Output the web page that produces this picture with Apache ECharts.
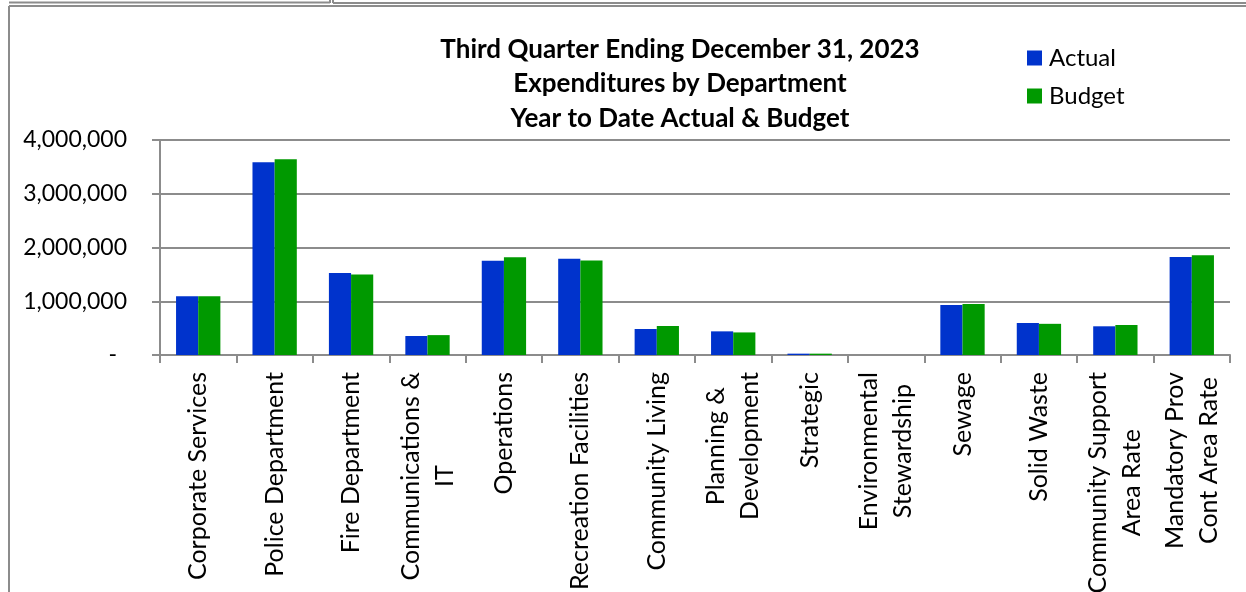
<!DOCTYPE html>
<html>
<head>
<meta charset="utf-8">
<script src="https://cdn.jsdelivr.net/npm/echarts@6/dist/echarts.min.js"></script>
<style>
html,body{margin:0;padding:0;background:#fff;}
#chart{width:1246px;height:592px;}
</style>
</head>
<body>
<div id="chart"></div>
<script>
var categories = [
  "Corporate Services", "Police Department", "Fire Department", "Communications &\nIT",
  "Operations", "Recreation Facilities", "Community Living", "Planning &\nDevelopment",
  "Strategic", "Environmental\nStewardship", "Sewage", "Solid Waste",
  "Community Support\nArea Rate", "Mandatory Prov\nCont Area Rate"
];
var actual = [1095000, 3585000, 1525000, 353000, 1755000, 1790000, 484000, 440000, 25000, 0, 930000, 595000, 534000, 1823000];
var budget = [1095000, 3640000, 1500000, 370000, 1820000, 1760000, 540000, 420000, 25000, 0, 950000, 580000, 558000, 1855000];
var yTicks = [0, 1000000, 2000000, 3000000, 4000000];
var titleLines = ["Third Quarter Ending December 31, 2023", "Expenditures by Department", "Year to Date Actual & Budget"];
var seriesNames = ["Actual", "Budget"];

var FONT = "Lato";
var chart = echarts.init(document.getElementById('chart'));
var option = {
  animation: false,
  backgroundColor: '#ffffff',
  title: {
    text: titleLines.join('\n'),
    left: 675,
    textAlign: 'center',
    top: 27,
    textStyle: { fontFamily: FONT, fontWeight: 'bold', fontSize: 26, lineHeight: 34.5, color: '#000' }
  },
  legend: {
    orient: 'vertical',
    left: 1027,
    top: 46,
    padding: 0,
    itemWidth: 15,
    itemHeight: 15,
    itemGap: 14,
    icon: 'rect',
    textStyle: { fontFamily: FONT, fontSize: 24, lineHeight: 24, color: '#000', padding: [0, 0, 0, 2] },
    data: seriesNames
  },
  grid: { left: 160, right: 16, top: 140, bottom: 237, containLabel: false, outerBoundsMode: 'none' },
  xAxis: {
    type: 'category',
    data: categories,
    axisLine: { lineStyle: { color: '#8c8c8c', width: 2 } },
    axisTick: { show: true, interval: 0, length: 8, lineStyle: { color: '#8c8c8c', width: 2 } },
    axisLabel: {
      interval: 0,
      rotate: 90,
      margin: 17,
      fontFamily: FONT,
      fontSize: 25,
      lineHeight: 34,
      color: '#000',
      formatter: function (v) {
        return v.split('\n').map(function (l) { return '{c|' + l + '}'; }).join('\n');
      },
      rich: { c: { align: 'center', fontFamily: FONT, fontSize: 25, lineHeight: 34, color: '#000' } }
    }
  },
  yAxis: {
    type: 'value',
    min: 0,
    max: 4000000,
    interval: 1000000,
    axisLine: { show: true, lineStyle: { color: '#8c8c8c', width: 2 } },
    axisTick: { show: true, length: 8, lineStyle: { color: '#8c8c8c', width: 2 } },
    splitLine: { lineStyle: { color: '#8c8c8c', width: 2 } },
    axisLabel: {
      margin: 33,
      fontFamily: FONT,
      fontSize: 23,
      color: '#000',
      formatter: function (v) {
        if (v === 0) return '{d|-}{s| }';
        return v.toLocaleString('en-US');
      },
      rich: {
        d: { fontFamily: FONT, fontSize: 23, color: '#000' },
        s: { fontFamily: FONT, fontSize: 23, width: 10 }
      }
    }
  },
  series: [
    {
      name: seriesNames[0], type: 'bar', data: actual,
      barGap: '0%', barCategoryGap: '42%',
      itemStyle: { color: '#0033cc' }
    },
    {
      name: seriesNames[1], type: 'bar', data: budget,
      barGap: '0%', barCategoryGap: '42%',
      itemStyle: { color: '#009900' }
    }
  ],
  graphic: [
    { type: 'line', shape: { x1: 9, y1: 2.5, x2: 330, y2: 2.5 }, style: { stroke: '#8c8c8c', lineWidth: 2 } },
    { type: 'line', shape: { x1: 330, y1: 0, x2: 330, y2: 3 }, style: { stroke: '#8c8c8c', lineWidth: 2 } },
    { type: 'line', shape: { x1: 333, y1: 3, x2: 1246, y2: 3 }, style: { stroke: '#8c8c8c', lineWidth: 2 } },
    { type: 'line', shape: { x1: 333, y1: 0, x2: 333, y2: 3 }, style: { stroke: '#8c8c8c', lineWidth: 2 } },
    { type: 'line', shape: { x1: 9, y1: 6, x2: 1246, y2: 6 }, style: { stroke: '#8c8c8c', lineWidth: 2 } },
    { type: 'line', shape: { x1: 9, y1: 6, x2: 9, y2: 592 }, style: { stroke: '#8c8c8c', lineWidth: 2 } }
  ]
};
chart.setOption(option);
</script>
</body>
</html>
